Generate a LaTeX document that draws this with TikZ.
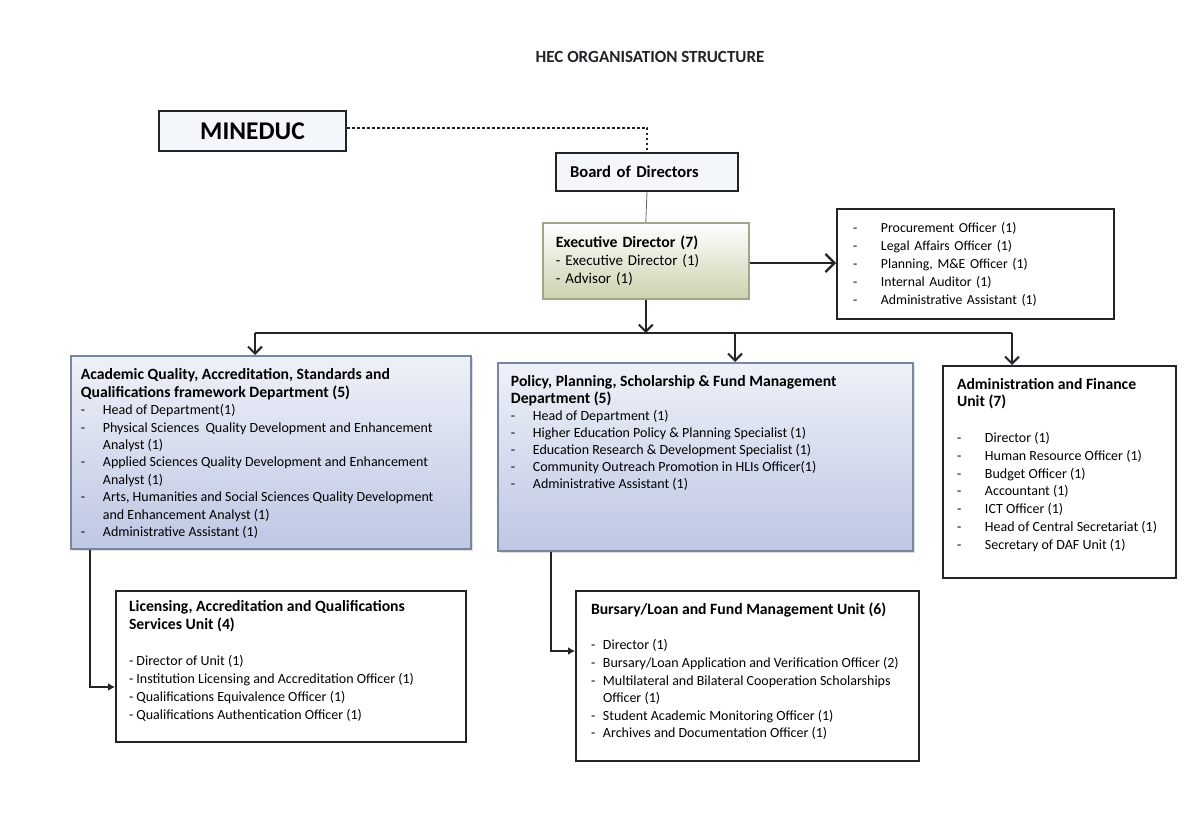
\documentclass[tikz,border=0pt]{standalone}
\usepackage{fontspec}
\setmainfont{Carlito}
\usetikzlibrary{arrows.meta,shadows}

\definecolor{inkline}{RGB}{34,36,42}
\definecolor{topfill}{RGB}{243,246,251}
\definecolor{deptline}{RGB}{120,134,164}
\definecolor{depttop}{RGB}{238,241,248}
\definecolor{deptbot}{RGB}{190,199,228}
\definecolor{execline}{RGB}{160,166,136}
\definecolor{execbot}{RGB}{203,210,174}

\newcommand{\itm}[2][22pt]{\makebox[#1][l]{-}\mbox{#2}}
\newcommand{\hd}[1]{\mbox{\fontsize{15.7}{17}\selectfont\bfseries #1}}
\newcommand{\boxbody}[3]{\parbox[t][#2][t]{#1}{\raggedright #3}}

\tikzset{
  topbox/.style={draw=inkline, line width=2pt, fill=topfill, anchor=north west, inner sep=0pt},
  execbox/.style={draw=execline, line width=1.6pt, top color=white, bottom color=execbot,
    anchor=north west, inner sep=0pt, align=left},
  deptbox/.style={draw=deptline, line width=1.8pt, top color=depttop, middle color=white!92!blue,
    bottom color=deptbot, anchor=north west, drop shadow={opacity=0.25,shadow xshift=2pt,shadow yshift=-2pt}},
  unitbox/.style={draw=inkline, line width=2pt, fill=white, anchor=north west, inner sep=0pt, align=left},
  feed/.style={draw=inkline, line width=2.4pt, -{Straight Barb[length=7pt,width=14pt,line width=2pt]}},
  sidefeed/.style={feed, -{Straight Barb[length=9pt,width=18pt,line width=2.2pt]}},
  feedin/.style={draw=inkline, line width=2.4pt, -{Latex[length=7pt,width=8pt]}},
  bus/.style={draw=inkline, line width=2.4pt},
  link/.style={draw=inkline, line width=2pt, dash pattern=on 2.5pt off 2.5pt}
}

\begin{document}
\begin{tikzpicture}[x=1pt, y=-1pt, font=\fontsize{14}{17.4}\selectfont]
\useasboundingbox[fill=white] (0,0) rectangle (1194,829);

% title
\node[font=\bfseries\fontsize{17}{19}\selectfont, inkline] (title) at (650,57) {HEC ORGANISATION STRUCTURE};

% top level
\node[topbox, minimum width=187pt, minimum height=40pt, font=\bfseries\fontsize{25.5}{28}\selectfont] (mineduc) at (158,110) {MINEDUC};
\node[topbox, minimum width=182pt, minimum height=38pt, text width=154pt, align=left,
  font=\bfseries\fontsize{16.6}{19}\selectfont] (board) at (555,152) {Board of Directors};
\node[execbox, minimum width=206pt, minimum height=76pt, text width=180pt,
  font=\fontsize{15}{18}\selectfont] (exec) at (542,222)
  {\hd{Executive Director (7)}\\- Executive Director (1)\\- Advisor (1)};
\node[unitbox, minimum width=277pt, minimum height=110pt, text width=245pt,
  font=\fontsize{13.8}{18}\selectfont] (staff) at (836,208)
  {\itm[28pt]{Procurement Officer (1)}\\
   \itm[28pt]{Legal Affairs Officer (1)}\\
   \itm[28pt]{Planning, M\&E Officer (1)}\\
   \itm[28pt]{Internal Auditor (1)}\\
   \itm[28pt]{Administrative Assistant (1)}};

% departments
\node[deptbox, inner xsep=10pt, inner ysep=13pt, align=left] (aq) at (70,355)
  {\boxbody{380pt}{167pt}{%
   \hd{Academic Quality, Accreditation, Standards and}\\
   \hd{Qualifications framework Department (5)}\\
   \itm{Head of Department(1)}\\
   \itm{Physical Sciences\ \ Quality Development and Enhancement}\\
   \hspace*{22pt}\mbox{Analyst (1)}\\
   \itm{Applied Sciences Quality Development and Enhancement}\\
   \hspace*{22pt}\mbox{Analyst (1)}\\
   \itm{Arts, Humanities and Social Sciences Quality Development}\\
   \hspace*{22pt}\mbox{and Enhancement Analyst\ (1)}\\
   \itm{Administrative Assistant (1)}}};
\node[deptbox, inner xsep=13pt, inner ysep=13pt, align=left, font=\fontsize{14}{17}\selectfont] (pp) at (497,362)
  {\boxbody{389pt}{162pt}{%
   \hd{Policy, Planning, Scholarship \& Fund Management}\\
   \hd{Department (5)}\\
   \itm{Head of Department (1)}\\
   \itm{Higher Education Policy \& Planning Specialist (1)}\\
   \itm{Education Research \& Development Specialist (1)}\\
   \itm{Community Outreach Promotion in HLIs Officer(1)}\\
   \itm{Administrative Assistant (1)}}};
\node[unitbox, inner xsep=14pt, inner ysep=12pt, font=\fontsize{14}{17.8}\selectfont] (admin) at (942,365)
  {\boxbody{205pt}{188pt}{%
   \hd{Administration and Finance}\\
   \hd{Unit (7)}\\[17.8pt]
   \itm[28pt]{Director (1)}\\
   \itm[28pt]{Human Resource Officer (1)}\\
   \itm[28pt]{Budget Officer (1)}\\
   \itm[28pt]{Accountant (1)}\\
   \itm[28pt]{ICT Officer (1)}\\
   \itm[28pt]{Head of Central Secretariat (1)}\\
   \itm[28pt]{Secretary of DAF Unit (1)}}};

% units
\node[unitbox, inner xsep=13pt, inner ysep=9pt, font=\fontsize{14}{18}\selectfont] (lic) at (115,590)
  {\boxbody{324pt}{133pt}{%
   \hd{Licensing, Accreditation and Qualifications}\\
   \hd{Services Unit (4)}\\[18pt]
   \mbox{- Director of Unit (1)}\\
   \mbox{- Institution Licensing and Accreditation Officer (1)}\\
   \mbox{- Qualifications Equivalence Officer (1)}\\
   \mbox{- Qualifications Authentication Officer (1)}}};
\node[unitbox, inner xsep=15pt, inner ysep=12pt, font=\fontsize{14}{17.6}\selectfont] (bursary) at (575,590)
  {\boxbody{313pt}{146pt}{%
   \hd{Bursary/Loan and Fund Management Unit (6)}\\[17.6pt]
   \itm[12pt]{Director (1)}\\
   \itm[12pt]{Bursary/Loan Application and Verification Officer (2)}\\
   \itm[12pt]{Multilateral and Bilateral Cooperation Scholarships}\\
   \hspace*{12pt}\mbox{Officer (1)}\\
   \itm[12pt]{Student Academic Monitoring Officer (1)}\\
   \itm[12pt]{Archives and Documentation Officer (1)}}};

% connectors
\coordinate (busL) at (255,333);
\coordinate (busM) at (735,333);
\coordinate (busR) at (1012,333);
\draw[link] ([yshift=3pt]mineduc.east) -| (board.north);
\draw[black!60, line width=0.8pt] (board.south) -- (exec.north);
\draw[sidefeed] (exec.east |- 0,263) -- (staff.west |- 0,263);
\draw[feed] (exec.south) -- (exec.south |- busL);
\draw[bus] (busL) -- (busR);
\draw[feed] (busL) -- (busL |- aq.north);
\draw[feed] (busM) -- (busM |- pp.north);
\draw[feed] (busR) -- (busR |- admin.north);
\draw[feedin] ([xshift=20pt]aq.south west) |- ([yshift=-20.5pt]lic.west);
\draw[feedin] ([xshift=54pt]pp.south west) |- ([yshift=25pt]bursary.west);
\end{tikzpicture}
\end{document}
